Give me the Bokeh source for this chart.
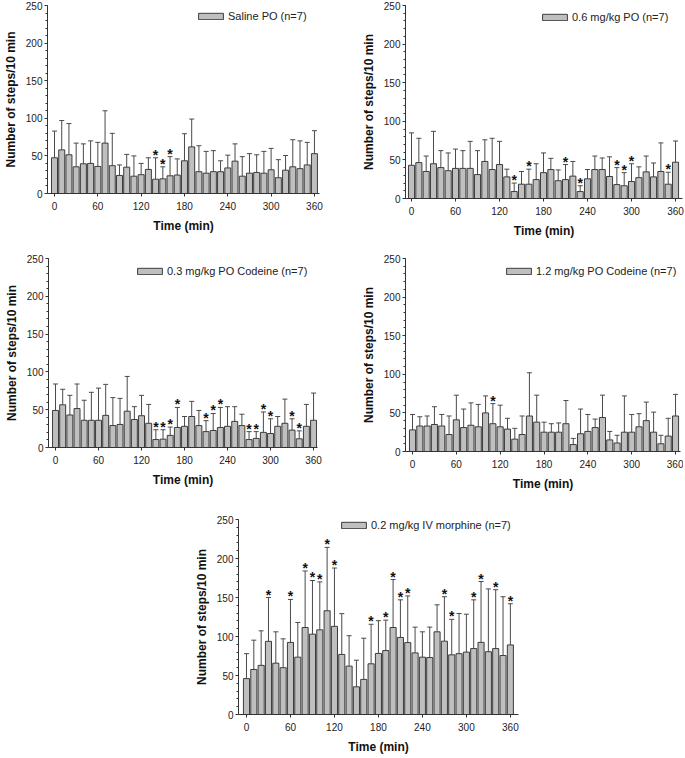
from bokeh.plotting import figure
from bokeh.models import (ColumnDataSource, Whisker, TeeHead, SingleIntervalTicker,
                          FixedTicker, Legend, LegendItem, Range1d)
from bokeh.layouts import row, column
from bokeh.embed import file_html
from bokeh.resources import INLINE
from bokeh.core.properties import value

# ---------------- data ----------------
times = list(range(0, 361, 10))
x_ticks = [0, 60, 120, 180, 240, 300, 360]

saline_label = "Saline PO (n=7)"
saline_mean = [47.5, 58, 51.5, 35.5, 39.5, 40, 36, 67, 37, 24, 35, 23, 25, 32, 19, 19.5, 23.5, 24.5,
               43.5, 62, 29, 27, 29, 29, 34, 43, 23, 27, 28, 27, 31.5, 21, 31, 35.5, 33, 38, 53]
saline_err = [83, 97, 93, 67, 66, 70, 68, 110, 80, 38, 52, 50, 40, 47.5, 47.5, 35.5, 49, 46,
              79.5, 99, 63.5, 56, 57, 43.5, 51, 66, 49, 53, 51.5, 56, 60, 45, 50.5, 71.5, 70, 68, 83.5]
saline_stars = [140, 150, 160]

po06_label = "0.6 mg/kg PO (n=7)"
po06_mean = [43, 46.5, 35, 45, 40, 36, 39, 39, 39, 31, 48, 37.5, 44, 28, 9, 18.5, 18.5, 24.5,
             33.5, 37.5, 23, 24.5, 29, 9, 25.5, 37.5, 37.5, 28.5, 18, 16.5, 22, 27, 34.5, 28, 35, 18.5, 47]
po06_err = [85, 78, 55, 87, 62, 59, 64, 62, 74, 62, 76, 78, 74, 38, 20, 35, 38, 45,
            59, 52, 37, 44, 48, 16.5, 37.5, 55, 52.5, 54, 40, 33.5, 45, 41, 55, 46, 72, 34, 74.5]
po06_stars = [140, 160, 210, 230, 280, 290, 300, 350]

cod03_label = "0.3 mg/kg PO Codeine (n=7)"
cod03_mean = [49, 56.5, 43, 51.5, 36, 36, 36, 42.5, 29, 30.5, 48, 37, 42, 32, 10.5, 11, 16, 26.5,
              28, 41, 29, 21, 22.5, 26.5, 28, 34.5, 29, 10.5, 12, 20, 18.5, 28, 32, 23, 11.5, 28, 36]
cod03_err = [84, 77, 69, 84, 62.5, 73, 78.5, 83.5, 66, 65, 94, 54, 69, 57, 23.5, 23.5, 27, 53,
             41, 61, 49, 35.5, 45, 53, 54, 54, 44, 21, 21, 47, 38, 41, 64, 38, 22, 57, 72]
cod03_stars = [140, 150, 160, 170, 210, 220, 230, 270, 280, 290, 300, 330, 340]

cod12_label = "1.2 mg/kg PO Codeine (n=7)"
cod12_mean = [28, 33, 33, 35, 33, 22, 41, 31, 34, 32, 50, 36, 32, 29, 16, 22, 46, 38,
              25, 25, 25, 36, 9, 23, 26, 31, 44, 15, 11, 25, 25, 32, 40, 25, 10, 20, 46]
cod12_err = [48, 45, 46, 58, 48, 46, 73, 55, 63, 61, 72, 62, 60, 43, 30, 46, 102, 73,
             38, 36, 37, 66, 17, 55, 48, 42, 73, 26, 21, 72, 48, 49, 64, 51, 21, 43, 74]
cod12_stars = [110]

mor_label = "0.2 mg/kg IV morphine (n=7)"
mor_mean = [46, 57.7, 63, 93.8, 65.8, 60, 92.4, 73.5, 111.5, 103, 108.5, 133, 113, 77, 62, 35.5, 45, 65,
            78.3, 82, 111.5, 98.8, 92.2, 79, 73.5, 73, 106, 94, 76.5, 78, 80, 84.5, 92.5, 80.5, 84.5, 75.6, 89.2]
mor_err = [78, 95.3, 107.3, 150, 106, 97, 147.5, 118, 184, 171.8, 170, 214.3, 187.8, 129.3, 101, 69.6, 97.8, 115.7,
           120.3, 121, 173, 147, 152, 112, 106, 112, 140.6, 151, 122, 129.5, 128.6, 147, 170.5, 161, 160, 151, 142]
mor_stars = [30, 60, 80, 90, 100, 110, 120, 170, 190, 200, 210, 220, 270, 280, 310, 320, 340, 360]

FONT = "Liberation Sans"
BAR_FILL = "#BFBFBF"
BAR_LINE = "#3C3C3C"
ERR_LINE = "#4A4A4A"


def make_panel(label, means, errs, stars, frame_w, frame_h, x_start, x_end,
               mb_left, mb_right, mb_top, mb_bottom, leg_x, leg_y):
    p = figure(frame_width=frame_w, frame_height=frame_h,
               x_range=Range1d(x_start, x_end), y_range=Range1d(0, 250),
               output_backend="svg", toolbar_location=None,
               min_border_left=mb_left, min_border_right=mb_right,
               min_border_top=mb_top, min_border_bottom=mb_bottom)
    p.outline_line_color = None
    p.grid.visible = False
    p.background_fill_color = "white"
    p.border_fill_color = "white"

    src = ColumnDataSource(dict(x=times, y=means, err=errs))
    r = p.vbar(x="x", top="y", bottom=0, width=8.3, source=src,
               fill_color=BAR_FILL, line_color=BAR_LINE, line_width=1)
    w = Whisker(source=src, base="x", upper="err", lower="y", dimension="height",
                line_color=ERR_LINE, line_width=1,
                upper_head=TeeHead(size=5, line_color=ERR_LINE, line_width=1),
                lower_head=None)
    p.add_layout(w)

    star_src = ColumnDataSource(dict(x=stars, y=[errs[times.index(s)] for s in stars],
                                     t=["*"] * len(stars)))
    p.text(x="x", y="y", text="t", source=star_src, text_font=value(FONT),
           text_font_size="14px", text_font_style="bold", text_align="center",
           text_baseline="alphabetic", y_offset=-3, text_color="#111111")

    p.xaxis.ticker = FixedTicker(ticks=x_ticks)
    p.yaxis.ticker = SingleIntervalTicker(interval=50, num_minor_ticks=5)
    for ax in (p.xaxis[0], p.yaxis[0]):
        ax.axis_line_color = "#333333"
        ax.major_tick_line_color = "#333333"
        ax.minor_tick_line_color = "#333333"
        ax.major_label_text_font = FONT
        ax.major_label_text_font_size = "10px"
        ax.major_label_text_color = "#222222"
        ax.axis_label_text_font = FONT
        ax.axis_label_text_font_size = "12px"
        ax.axis_label_text_font_style = "bold"
        ax.axis_label_text_color = "#111111"
        ax.major_tick_in = 0
        ax.major_tick_out = 3
        ax.minor_tick_in = 0
        ax.minor_tick_out = 2
    p.xaxis.minor_tick_line_color = None
    p.xaxis.axis_label = "Time (min)"
    p.yaxis.axis_label = "Number of steps/10 min"
    p.xaxis.major_label_standoff = 5
    p.xaxis.axis_label_standoff = 6
    p.yaxis.major_label_standoff = 2
    p.yaxis.axis_label_standoff = 5

    leg = Legend(items=[LegendItem(label=label, renderers=[r])], location=(leg_x, leg_y),
                 padding=0, margin=0, spacing=0, glyph_width=31, glyph_height=8,
                 label_standoff=2, label_height=12,
                 label_text_font=FONT, label_text_font_size="11px",
                 label_text_color="#222222", label_text_baseline="middle",
                 background_fill_alpha=0, border_line_alpha=0)
    p.add_layout(leg)
    return p


p1 = make_panel(saline_label, saline_mean, saline_err, saline_stars,
                272, 188, -9.7, 367.0, 45, 6, 5, 55, 148, 171)
p2 = make_panel(po06_label, po06_mean, po06_err, po06_stars,
                277, 193, -8.2, 369.5, 80, 3, 5, 50, 134, 175)
p3 = make_panel(cod03_label, cod03_mean, cod03_err, cod03_stars,
                269, 189, -9.8, 365.5, 48, 20, 10, 58, 86, 170)
p4 = make_panel(cod12_label, cod12_mean, cod12_err, cod12_stars,
                275, 193, -9.6, 366.8, 68, 3, 5, 59, 98, 174)
p5 = make_panel(mor_label, mor_mean, mor_err, mor_stars,
                280, 195, -10.9, 371.1, 238, 10, 14, 42, 100, 183)

layout = column(row(p1, p2), row(p3, p4), row(p5))

with open("out.html", "w") as f:
    f.write(file_html(layout, INLINE))
